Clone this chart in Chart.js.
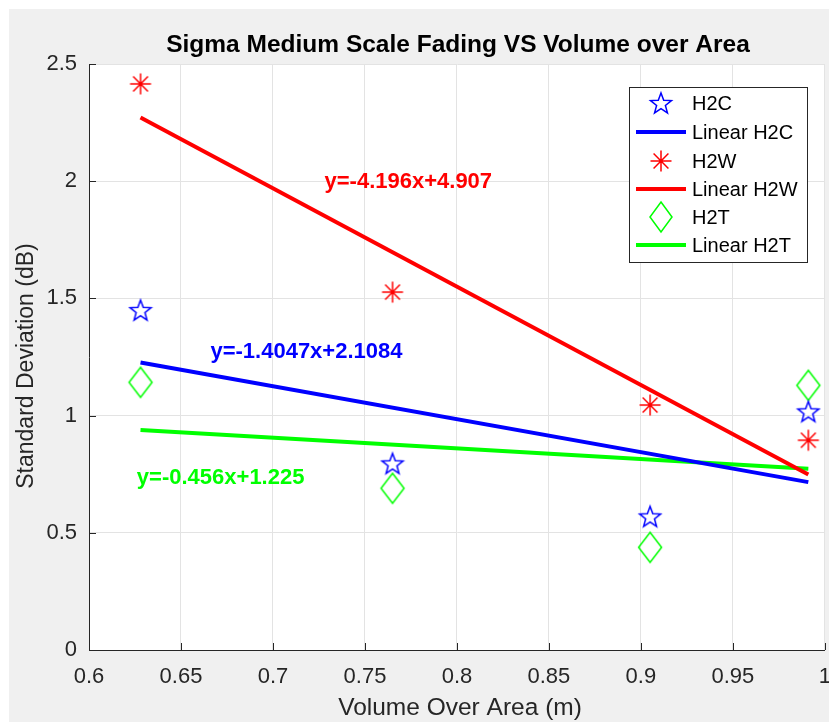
<!DOCTYPE html>
<html><head><meta charset="utf-8">
<script src="https://cdn.jsdelivr.net/npm/chart.js@4"></script>
<style>
html,body{margin:0;padding:0;background:#fff;overflow:hidden;width:829px;height:722px;}
#wrap{position:absolute;left:0;top:0;width:845px;height:722px;}
</style></head><body>
<div id="wrap"><canvas id="c" width="845" height="722"></canvas></div>
<script>
const xVals = [0.628, 0.765, 0.905, 0.991];
const h2c = [1.450, 0.796, 0.570, 1.018];
const h2w = [2.415, 1.527, 1.045, 0.895];
const h2t = [1.142, 0.690, 0.438, 1.129];
const fitX = [0.628, 0.991];
const fitH2C = [1.2263, 0.7163];
const fitH2W = [2.2719, 0.7487];
const fitH2T = [0.9386, 0.7731];
const xTicks = [0.6,0.65,0.7,0.75,0.8,0.85,0.9,0.95,1];
const yTicks = [0,0.5,1,1.5,2,2.5];
const legendLabels = ['H2C','Linear H2C','H2W','Linear H2W','H2T','Linear H2T'];
const eqTexts = [
  {text:'y=-4.196x+4.907', x:0.728, y:1.996, color:'#ff0000'},
  {text:'y=-1.4047x+2.1084', x:0.666, y:1.270, color:'#0000ff'},
  {text:'y=-0.456x+1.225', x:0.626, y:0.732, color:'#00ff00'}
];
const titleText = 'Sigma Medium Scale Fading VS Volume over Area';
const xTitle = 'Volume Over Area (m)';
const yTitle = 'Standard Deviation (dB)';

const BLUE='#0000ff', RED='#ff0000', GREEN='#00ff00';
const FONT = '"Liberation Sans", Arial, Helvetica, sans-serif';

function drawStar5(ctx, cx, cy, R, color){
  const r = R*0.42;
  ctx.save();
  ctx.beginPath();
  for(let i=0;i<10;i++){
    const a = -Math.PI/2 + i*Math.PI/5;
    const rr = i%2===0?R:r;
    const px = cx + rr*Math.cos(a), py = cy + rr*Math.sin(a);
    if(i===0) ctx.moveTo(px,py); else ctx.lineTo(px,py);
  }
  ctx.closePath();
  ctx.strokeStyle=color; ctx.lineWidth=1.5; ctx.stroke();
  ctx.restore();
}
function drawDiamond(ctx, cx, cy, hw, hh, color){
  ctx.save();
  ctx.beginPath();
  ctx.moveTo(cx, cy-hh); ctx.lineTo(cx+hw, cy); ctx.lineTo(cx, cy+hh); ctx.lineTo(cx-hw, cy); ctx.closePath();
  ctx.strokeStyle=color; ctx.lineWidth=1.5; ctx.stroke();
  ctx.restore();
}
function drawAsterisk(ctx, cx, cy, R, color){
  ctx.save();
  ctx.beginPath();
  for(let i=0;i<4;i++){
    const a = i*Math.PI/4;
    ctx.moveTo(cx - R*Math.cos(a), cy - R*Math.sin(a));
    ctx.lineTo(cx + R*Math.cos(a), cy + R*Math.sin(a));
  }
  ctx.strokeStyle=color; ctx.lineWidth=1.5; ctx.stroke();
  ctx.restore();
}
function makeImg(w,h,fn){
  const cv=document.createElement('canvas'); cv.width=w; cv.height=h;
  fn(cv.getContext('2d'), w/2, h/2); return cv;
}
const starImg = makeImg(26,26,(c,x,y)=>drawStar5(c,x,y+1,11,BLUE));
const diamImg = makeImg(28,34,(c,x,y)=>drawDiamond(c,x,y,11.5,15,GREEN));
const astImg = makeImg(26,26,(c,x,y)=>drawAsterisk(c,x,y,10.5,RED));

const pts = arr => xVals.map((x,i)=>({x, y:arr[i]}));
const fit = arr => fitX.map((x,i)=>({x, y:arr[i]}));

const bgPlugin = {
  id:'bg',
  beforeDraw(chart){
    const ctx=chart.ctx, a=chart.chartArea;
    ctx.save();
    ctx.fillStyle='#ffffff'; ctx.fillRect(0,0,chart.width,chart.height);
    ctx.fillStyle='#f0f0f0'; ctx.fillRect(9,9,chart.width-9,chart.height-9);
    ctx.fillStyle='#ffffff'; ctx.fillRect(a.left,a.top,a.right-a.left,a.bottom-a.top);
    ctx.restore();
  },
  afterDatasetsDraw(chart){
    const ctx=chart.ctx, a=chart.chartArea, xs=chart.scales.x, ys=chart.scales.y;
    ctx.save();
    ctx.strokeStyle='#262626'; ctx.lineWidth=1;
    ctx.beginPath();
    xTicks.forEach(v=>{const px=Math.round(xs.getPixelForValue(v))+0.5; ctx.moveTo(px,a.bottom); ctx.lineTo(px,a.bottom-7);});
    yTicks.forEach(v=>{const py=Math.round(ys.getPixelForValue(v))+0.5; ctx.moveTo(a.left,py); ctx.lineTo(a.left+7,py);});
    ctx.stroke();
    ctx.font='bold 22px '+FONT; ctx.textBaseline='middle'; ctx.textAlign='left';
    eqTexts.forEach(t=>{ctx.fillStyle=t.color; ctx.fillText(t.text, xs.getPixelForValue(t.x), ys.getPixelForValue(t.y));});
    ctx.fillStyle='#000000'; ctx.font='bold 24.5px '+FONT; ctx.textAlign='center';
    ctx.fillText(titleText, 458, 45);
    ctx.fillStyle='#262626'; ctx.font='24.5px '+FONT;
    ctx.fillText(xTitle, 460, 708);
    ctx.save(); ctx.translate(27,366); ctx.rotate(-Math.PI/2);
    ctx.font='23px '+FONT;
    ctx.fillText(yTitle,0,0); ctx.restore();
    const lx=629, ly=87, lw=178, lh=175;
    ctx.fillStyle='#ffffff'; ctx.fillRect(lx,ly,lw,lh);
    ctx.strokeStyle='#262626'; ctx.lineWidth=1; ctx.strokeRect(lx+0.5,ly+0.5,lw,lh);
    const rowY=[103,132,161,189,217,245];
    ctx.font='20px '+FONT; ctx.textAlign='left'; ctx.fillStyle='#000000';
    chart.data.datasets.forEach((ds,i)=>{
      const y=rowY[i];
      if(ds.showLine){
        ctx.strokeStyle=ds.borderColor; ctx.lineWidth=4; ctx.beginPath(); ctx.moveTo(636,y); ctx.lineTo(686,y); ctx.stroke();
      } else if(i===0){ drawStar5(ctx,661,y+1,11,BLUE); }
      else if(i===2){ drawAsterisk(ctx,661,y,10.5,RED); }
      else { drawDiamond(ctx,661,y,11,15,GREEN); }
      ctx.fillStyle='#000000'; ctx.fillText(legendLabels[i],692,y+1);
    });
    ctx.restore();
  }
};

new Chart(document.getElementById('c'),{
  type:'scatter',
  data:{datasets:[
    {label:legendLabels[0], data:pts(h2c), pointStyle:starImg, showLine:false},
    {label:legendLabels[1], data:fit(fitH2C), showLine:true, borderColor:BLUE, borderWidth:4, pointRadius:0},
    {label:legendLabels[2], data:pts(h2w), pointStyle:astImg, showLine:false},
    {label:legendLabels[3], data:fit(fitH2W), showLine:true, borderColor:RED, borderWidth:4, pointRadius:0},
    {label:legendLabels[4], data:pts(h2t), pointStyle:diamImg, showLine:false},
    {label:legendLabels[5], data:fit(fitH2T), showLine:true, borderColor:GREEN, borderWidth:4, pointRadius:0}
  ]},
  options:{
    responsive:false, animation:false,
    layout:{padding:{top:64,left:0,right:13,bottom:0}},
    plugins:{legend:{display:false}, title:{display:false}, tooltip:{enabled:false}},
    scales:{
      x:{type:'linear', min:0.6, max:1,
        afterBuildTicks(s){ s.ticks = xTicks.map(v=>({value:v})); },
        afterFit(s){ s.height=72; },
        grid:{color:'#e3e3e3', drawTicks:false},
        border:{color:'#262626', width:1},
        ticks:{padding:14, color:'#262626', font:{family:FONT,size:22}, maxRotation:0, autoSkip:false,
          callback:v=>String(v)}
      },
      y:{type:'linear', min:0, max:2.5,
        afterBuildTicks(s){ s.ticks = yTicks.map(v=>({value:v})); },
        afterFit(s){ s.width=89; },
        grid:{color:'#e3e3e3', drawTicks:false},
        border:{color:'#262626', width:1},
        ticks:{padding:12, color:'#262626', font:{family:FONT,size:22}, callback:v=>String(v)}
      }
    }
  },
  plugins:[bgPlugin]
});
</script>
</body></html>
